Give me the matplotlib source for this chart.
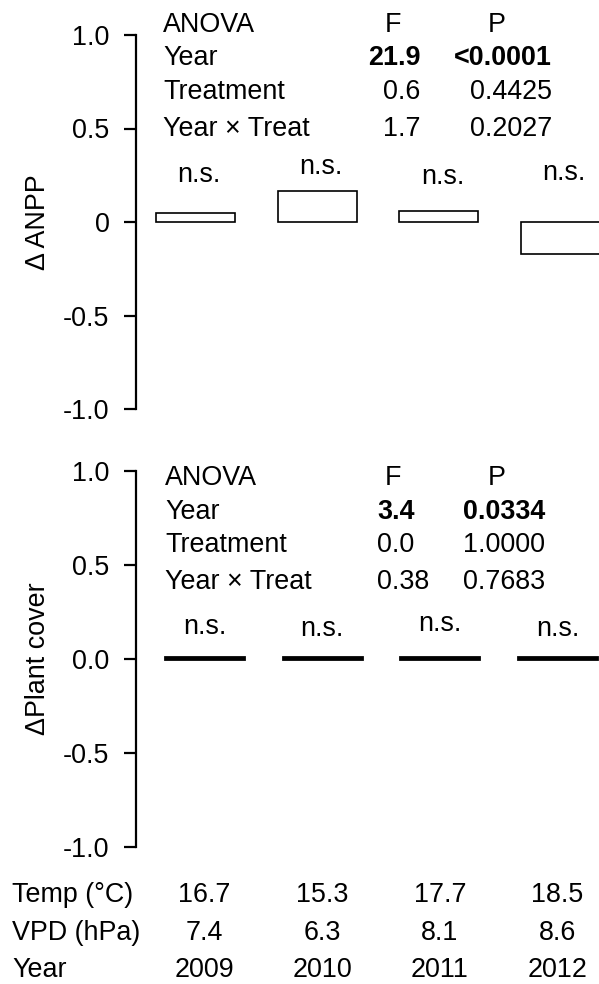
"""Year effects on delta ANPP and delta plant cover, with ANOVA tables and climate rows."""

import matplotlib

matplotlib.use("Agg")
import matplotlib.pyplot as plt
import matplotlib.transforms as mtransforms
import numpy as np

YEARS = ["2009", "2010", "2011", "2012"]
TEMP = ["16.7", "15.3", "17.7", "18.5"]
VPD = ["7.4", "6.3", "8.1", "8.6"]

# bar heights
D_ANPP = [0.049, 0.165, 0.058, -0.171]
D_COVER = [0.008, 0.008, 0.009, 0.013]

SIG_ANPP = ["n.s.", "n.s.", "n.s.", "n.s."]
SIG_COVER = ["n.s.", "n.s.", "n.s.", "n.s."]

ANOVA_TERMS = ["Year", "Treatment", "Year \u00d7 Treat"]
ANPP_F = ["21.9", "0.6", "1.7"]
ANPP_P = ["<0.0001", "0.4425", "0.2027"]
COVER_F = ["3.4", "0.0", "0.38"]
COVER_P = ["0.0334", "1.0000", "0.7683"]

W, H = 599, 984
FS = 19.4
plt.rcParams["font.family"] = ["Liberation Sans", "DejaVu Sans"]

fig = plt.figure(figsize=(W / 100, H / 100), dpi=100)


def px_axes(x0, y_top, y_bot):
    return fig.add_axes([x0 / W, 1 - y_bot / H, (W - x0) / W, (y_bot - y_top) / H])


def style(ax, ticklabels, xlim):
    for s in ["top", "right", "bottom"]:
        ax.spines[s].set_visible(False)
    ax.spines["left"].set_linewidth(1.6)
    ax.spines["left"].set_bounds(-1, 1)
    ax.set_ylim(-1, 1)
    ax.set_xlim(*xlim)
    ax.set_yticks([1, 0.5, 0, -0.5, -1])
    ax.set_yticklabels(ticklabels)
    ax.tick_params(axis="y", length=8.6, width=1.6, pad=10.5, labelsize=FS)
    ax.set_xticks([])
    ax.patch.set_visible(False)


x = np.arange(len(YEARS))
LABEL_X = -(136 - 38) / (W - 136)

# ---- top panel: delta ANPP
ax1 = px_axes(136, 35, 409)
style(ax1, ["1.0", "0.5", "0", "-0.5", "-1.0"], (-0.49, 3.318))
ax1.bar(x, D_ANPP, 0.651, facecolor="white", edgecolor="black", linewidth=1.2, clip_on=False)
for xi, s, y in zip(x, SIG_ANPP, [0.214, 0.258, 0.205, 0.222]):
    ax1.text(xi + 0.03, y, s, ha="center", va="baseline", fontsize=FS)
ax1.set_ylabel("\u0394 ANPP", fontsize=FS, va="center")
ax1.yaxis.set_label_coords(LABEL_X, 0.5)

rows1 = [1.017, 0.84, 0.657, 0.46]
ax1.text(-0.268, rows1[0], "ANOVA", ha="left", va="baseline", fontsize=FS)
ax1.text(1.62, rows1[0], "F", ha="center", va="baseline", fontsize=FS)
ax1.text(2.477, rows1[0], "P", ha="center", va="baseline", fontsize=FS)
for i, (term, f, p) in enumerate(zip(ANOVA_TERMS, ANPP_F, ANPP_P)):
    w = "bold" if i == 0 else "normal"
    y = rows1[i + 1]
    ax1.text(-0.268, y, term, ha="left", va="baseline", fontsize=FS)
    ax1.text(1.851, y, f, ha="right", va="baseline", fontsize=FS, fontweight=w)
    ax1.text(2.931, y, p, ha="right", va="baseline", fontsize=FS, fontweight=w)

# ---- bottom panel: delta plant cover
ax2 = px_axes(136, 471, 847)
style(ax2, ["1.0", "0.5", "0.0", "-0.5", "-1.0"], (-0.582, 3.352))
ax2.bar(x, D_COVER, 0.671, facecolor="white", edgecolor="black", linewidth=2.0, clip_on=False)
for xi, s, y in zip(x, SIG_COVER, [0.133, 0.124, 0.147, 0.124]):
    ax2.text(xi, y, s, ha="center", va="baseline", fontsize=FS)
ax2.set_ylabel("\u0394Plant cover", fontsize=FS, va="center")
ax2.yaxis.set_label_coords(LABEL_X, 0.5)

rows2 = [0.924, 0.747, 0.569, 0.373]
ax2.text(-0.336, rows2[0], "ANOVA", ha="left", va="baseline", fontsize=FS)
ax2.text(1.601, rows2[0], "F", ha="center", va="baseline", fontsize=FS)
ax2.text(2.485, rows2[0], "P", ha="center", va="baseline", fontsize=FS)
for i, (term, f, p) in enumerate(zip(ANOVA_TERMS, COVER_F, COVER_P)):
    w = "bold" if i == 0 else "normal"
    y = rows2[i + 1]
    ax2.text(-0.336, y, term, ha="left", va="baseline", fontsize=FS)
    ax2.text(1.466, y, f, ha="left", va="baseline", fontsize=FS, fontweight=w)
    ax2.text(2.196, y, p, ha="left", va="baseline", fontsize=FS, fontweight=w)

# ---- climate table under the panels
trans = mtransforms.blended_transform_factory(ax2.transData, fig.transFigure)
table = [("Temp (\u00b0C)", TEMP, 902), ("VPD (hPa)", VPD, 940), ("Year", YEARS, 977)]
for label, vals, ypx in table:
    fig.text(12 / W, 1 - ypx / H, label, ha="left", va="baseline", fontsize=FS)
    for xi, v in zip(x, vals):
        ax2.text(xi, 1 - ypx / H, v, transform=trans, ha="center", va="baseline", fontsize=FS)

fig.savefig("out.png", dpi=100)
